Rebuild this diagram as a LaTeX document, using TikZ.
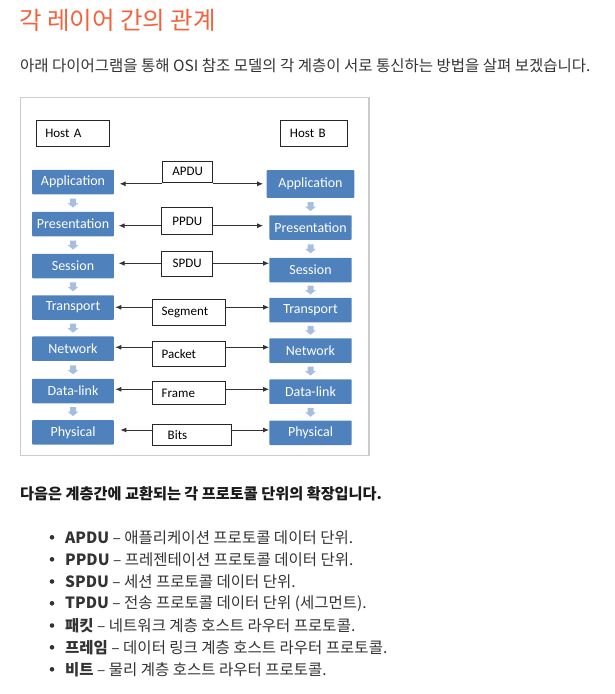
\documentclass[tikz,border=0pt]{standalone}
\usepackage{fontspec}
\setmainfont{Carlito}
\newfontfamily\krfont{Noto Sans CJK KR}
\usetikzlibrary{arrows.meta,positioning,calc}

\begin{document}
\begin{tikzpicture}[x=1pt,y=-1pt,
    layer/.style={fill=col_layer,text=white,font=\fontsize{14}{16}\selectfont,minimum width=82.4pt,minimum height=24.5pt,inner sep=0pt,rounded corners=0.8pt},
    hostbox/.style={draw=black!85,line width=1pt,minimum height=26pt,inner xsep=9pt,inner ysep=0pt,align=left,font=\fontsize{13}{15}\selectfont},
    pdubox/.style={draw=black!85,line width=0.9pt,fill=white,inner ysep=0pt,font=\fontsize{13}{15}\selectfont},
    link/.style={-{Latex[length=6pt,width=5pt]},line width=0.9pt,draw=black!80},
    bodytext/.style={anchor=west,inner sep=0pt,text=col_text,font=\krfont\fontsize{15.5}{18}\selectfont}]
    \definecolor{col_title}{HTML}{F4623A} % heading colour
    \definecolor{col_text}{HTML}{333333}
    \definecolor{col_dark}{HTML}{1A1A1A}
    \definecolor{col_frame}{HTML}{CCCCCC}
    \definecolor{col_layer}{HTML}{4F81BD} % OSI layer boxes
    \definecolor{col_step}{HTML}{A7BFDE}
    \useasboundingbox (0,0) rectangle (614,694);
    % heading and intro
    \node[bodytext,text=col_title,font=\krfont\fontsize{24.5}{28}\selectfont] (title) at (19,20) {각 레이어 간의 관계};
    \node[bodytext] (intro) at (20,66) {아래 다이어그램을 통해 OSI 참조 모델의 각 계층이 서로 통신하는 방법을 살펴 보겠습니다.};
    % diagram
    \draw[col_frame,line width=1.2pt] (20.5,97.5) rectangle (369,455.5);
    \node[hostbox,text width=55.4pt] (hostA) at (73,133) {Host A};
    \node[hostbox,text width=48.7pt] (hostB) at (314.3,133) {Host B};
    \node[layer,minimum width=81.7pt] (appA) at (73,182) {Application};
    \node[layer,minimum width=81.7pt] (presA) at (73,224) {Presentation};
    \node[layer,minimum width=81.7pt] (sessA) at (73,266) {Session};
    \node[layer,minimum width=81.7pt] (transA) at (73,307.5) {Transport};
    \node[layer,minimum width=81.7pt] (netA) at (73,348.7) {Network};
    \node[layer,minimum width=81.7pt] (dlA) at (73,391) {Data-link};
    \node[layer,minimum width=81.7pt] (physA) at (73,432.3) {Physical};
    \node[layer,minimum width=87.6pt,minimum height=27.7pt] (appB) at (310.5,184) {Application};
    \node[layer] (presB) at (310.5,227.5) {Presentation};
    \node[layer] (sessB) at (310.5,270) {Session};
    \node[layer] (transB) at (310.5,310) {Transport};
    \node[layer] (netB) at (310.5,350.5) {Network};
    \node[layer] (dlB) at (310.5,391.7) {Data-link};
    \node[layer] (physB) at (310.5,432.8) {Physical};
    \foreach \u/\l in {appA/presA,presA/sessA,sessA/transA,transA/netA,netA/dlA,dlA/physA,appB/presB,presB/sessB,sessB/transB,transB/netB,netB/dlB,dlB/physB}
      \fill[col_step,shift={($(\u.south)!0.5!(\l.north)$)}] (-3,-4.5) -- (3,-4.5) -- (3,0) -- (5.5,0) -- (0,4.5) -- (-5.5,0) -- (-3,0) -- cycle;
    % protocol data units
    \node[pdubox,minimum width=50pt,minimum height=21.3pt] (apdu) at (187.7,171.7) {APDU};
    \node[pdubox,minimum width=51pt,minimum height=26.6pt] (ppdu) at (187.2,221) {PPDU};
    \node[pdubox,minimum width=51pt,minimum height=25.7pt] (spdu) at (187.2,263.8) {SPDU};
    \node[pdubox,inner xsep=9pt,text width=54.3pt,align=left,minimum height=25.7pt] (segment) at (188.8,312.2) {Segment};
    \node[pdubox,inner xsep=9pt,text width=54.3pt,align=left,minimum height=25.7pt] (packet) at (188.8,353.8) {Packet};
    \node[pdubox,inner xsep=9pt,text width=54.3pt,align=left,minimum height=22.6pt] (frame) at (188.8,393) {Frame};
    \node[pdubox,inner xsep=15pt,text width=49pt,align=left,minimum height=21.5pt] (bits) at (192.2,435) {Bits};
    \coordinate (r1) at ([yshift=-1pt]apdu.south);
    \coordinate (r2) at ([yshift=-4.7pt]ppdu.center);
    \coordinate (r3) at ([yshift=0.5pt]spdu.center);
    \coordinate (r4) at ([yshift=4.9pt]segment.center);
    \coordinate (r5) at ([yshift=6.5pt]packet.center);
    \coordinate (r6) at ([yshift=3.7pt]frame.center);
    \coordinate (r7) at ([yshift=5pt]bits.center);
    \draw[link,shorten >=5.6pt] (r1 -| apdu.west) -- (r1 -| appA.east);
    \draw[link,shorten >=3.4pt] (r1 -| apdu.east) -- (r1 -| appB.west);
    \draw[link,shorten >=4.6pt] (r2 -| ppdu.west) -- (r2 -| presA.east);
    \draw[link,shorten >=6pt] (r2 -| ppdu.east) -- (r2 -| presB.west);
    \draw[link,shorten >=4.6pt] (r3 -| spdu.west) -- (r3 -| sessA.east);
    \draw[link] (r3 -| spdu.east) -- (r3 -| sessB.west);
    \draw[link,shorten >=1.3pt] (r4 -| segment.west) -- (r4 -| transA.east);
    \draw[link] (r4 -| segment.east) -- (r4 -| transB.west);
    \draw[link,shorten >=1.3pt] (r5 -| packet.west) -- (r5 -| netA.east);
    \draw[link] (r5 -| packet.east) -- (r5 -| netB.west);
    \draw[link,shorten >=1.3pt] (r6 -| frame.west) -- (r6 -| dlA.east);
    \draw[link] (r6 -| frame.east) -- (r6 -| dlB.west);
    \draw[link,shorten >=6.3pt] (r7 -| bits.west) -- (r7 -| physA.east);
    \draw[link] (r7 -| bits.east) -- (r7 -| physB.west);
    % unit list
    \node[bodytext,text=col_dark,font=\krfont\bfseries\fontsize{15.2}{18}\selectfont] (units) at (20,494) {다음은 계층간에 교환되는 각 프로토콜 단위의 확장입니다.};
    \node[bodytext] (apduitem) at (65,537.3) {\textbf{APDU} – 애플리케이션 프로토콜 데이터 단위.};
    \node[bodytext] (ppduitem) at (65,559.3) {\textbf{PPDU} – 프레젠테이션 프로토콜 데이터 단위.};
    \node[bodytext] (spduitem) at (65,581.5) {\textbf{SPDU} – 세션 프로토콜 데이터 단위.};
    \node[bodytext] (tpduitem) at (65,603.3) {\textbf{TPDU} – 전송 프로토콜 데이터 단위 (세그먼트).};
    \node[bodytext] (packetitem) at (65,625.5) {\textbf{패킷} – 네트워크 계층 호스트 라우터 프로토콜.};
    \node[bodytext] (frameitem) at (65,647.3) {\textbf{프레임} – 데이터 링크 계층 호스트 라우터 프로토콜.};
    \node[bodytext] (bititem) at (65,669.3) {\textbf{비트} – 물리 계층 호스트 라우터 프로토콜.};
    \foreach \n in {apduitem,ppduitem,spduitem,tpduitem,packetitem,frameitem,bititem}
      \fill[col_text] ([xshift=-13pt]\n.west) circle (2.3);
\end{tikzpicture}
\end{document}
